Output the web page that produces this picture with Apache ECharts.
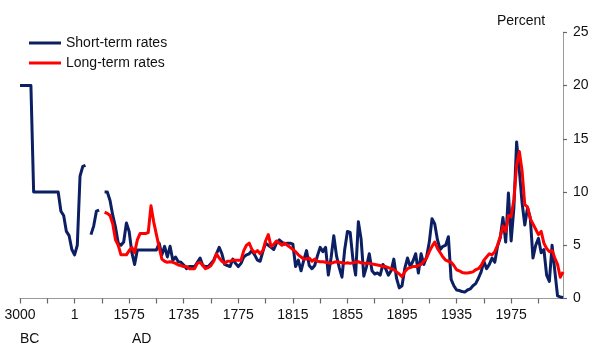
<!DOCTYPE html>
<html>
<head>
<meta charset="utf-8">
<script src="https://cdn.jsdelivr.net/npm/echarts@6/dist/echarts.min.js"></script>
<style>
html,body{margin:0;padding:0;background:#fff;}
#chart{width:602px;height:361px;}
</style>
</head>
<body>
<div id="chart"></div>
<script>
// Tick labels shown every 20 categories
const tickLabels = ["3000", "1", "1575", "1735", "1775", "1815", "1855", "1895", "1935", "1975"];
const eraLabels = ["BC", "AD"];

// Category years: 3000BC-1 (150y steps), 1-1575 (~79y), 1575-1735 (8y), 1735 on (2y)
const categories = [];
for (let i = 0; i < 200; i++) {
  let y;
  if (i < 20) y = -3000 + i * 150;
  else if (i < 40) y = 1 + Math.round((i - 20) * 78.7);
  else if (i < 60) y = 1575 + (i - 40) * 8;
  else y = 1735 + (i - 60) * 2;
  categories.push(String(y));
}

// Short-term rates (percent)
const shortRates = [
  20, 20, 20, 20, 20, 10, 10, 10, 10, 10,
  10, 10, 10, 10, 10, 8.2, 7.8, 6.3, 5.9, 4.6,
  4.1, 5.0, 11.5, 12.4, 12.5, null, 6.0, 6.8, 8.2, 8.3,
  null, 10.0, 10.0, 9.2, 7.8, 6.7, 5.2, 5.0, 5.3, 7.1,
  6.3, 4.3, 3.2, 4.55, 4.55, 4.55, 4.55, 4.55, 4.55, 4.55,
  4.55, 5.2, 4.1, 4.9, 3.9, 4.9, 3.6, 3.9, 3.45, 3.4,
  3.15, 2.8, 3.0, 3.0, 3.0, 3.4, 3.8, 3.1, 3.0, 3.0,
  3.3, 3.6, 4.2, 4.8, 4.2, 3.2, 3.1, 3.0, 3.7, 3.3,
  3.0, 3.3, 3.9, 4.1, 4.2, 4.5, 4.1, 3.6, 3.5, 4.4,
  5.2, 5.0, 4.8, 4.6, 5.2, 5.5, 5.3, 5.1, 5.2, 5.2,
  5.1, 3.0, 3.6, 2.6, 3.6, 4.5, 3.1, 2.8, 3.1, 4.0,
  4.8, 4.4, 4.8, 2.2, 3.8, 5.9, 4.0, 2.9, 2.0, 4.6,
  6.3, 6.2, 3.7, 2.2, 7.2, 5.6, 2.1, 3.0, 4.2, 2.6,
  2.3, 2.4, 2.2, 3.2, 2.8, 2.2, 2.6, 3.7, 1.9, 1.0,
  1.2, 2.8, 3.8, 3.0, 3.5, 4.2, 2.4, 4.2, 3.2, 3.9,
  5.3, 7.5, 7.0, 5.5, 4.6, 4.9, 5.0, 5.8, 1.8, 1.2,
  0.8, 0.75, 0.65, 0.6, 0.8, 0.9, 1.2, 1.4, 1.9, 2.5,
  3.5, 2.8, 3.2, 3.8, 3.4, 4.9, 5.7, 7.6, 5.3, 9.9,
  5.4, 8.5, 14.7, 12.0, 9.0, 6.9, 8.5, 7.6, 3.8, 5.0,
  5.65, 4.3, 4.6, 2.2, 1.6, 5.0, 2.6, 0.25, 0.15, 0.1
];

// Long-term rates (percent)
const longRates = [
  null, null, null, null, null, null, null, null, null, null,
  null, null, null, null, null, null, null, null, null, null,
  null, null, null, null, null, null, null, null, null, null,
  null, 8.1, 8.0, 7.8, 7.0, 5.5, 5.0, 4.1, 4.1, 4.1,
  4.5, 4.8, 4.3, 5.5, 6.1, 6.1, 6.1, 6.2, 8.7, 7.2,
  6.0, 4.8, 3.7, 3.5, 3.4, 3.45, 3.4, 3.3, 3.15, 3.1,
  3.0, 3.0, 2.8, 2.8, 2.8, 3.3, 3.4, 3.1, 2.8, 2.9,
  3.1, 3.5, 4.2, 3.8, 3.5, 3.3, 3.5, 3.5, 3.6, 3.6,
  3.6, 3.6, 4.5, 5.0, 5.2, 4.6, 4.3, 4.5, 4.2, 4.5,
  5.4, 6.0, 4.9, 5.1, 5.4, 5.2, 5.0, 5.2, 5.0, 4.8,
  4.6, 4.4, 4.1, 3.9, 3.7, 3.7, 3.8, 3.5, 3.7, 3.5,
  3.45, 3.45, 3.4, 3.35, 3.3, 3.4, 3.45, 3.4, 3.35, 3.3,
  3.35, 3.3, 3.35, 3.4, 3.45, 3.35, 3.3, 3.3, 3.3, 3.25,
  3.2, 3.15, 3.1, 3.0, 3.0, 2.9, 2.8, 2.7, 2.5, 2.3,
  2.05, 2.5, 2.8, 2.9, 3.0, 3.0, 3.1, 3.2, 3.5, 3.8,
  4.4, 4.9, 5.3, 4.7, 4.3, 3.9, 3.6, 3.5, 3.4, 3.1,
  2.7, 2.6, 2.45, 2.4, 2.4, 2.45, 2.5, 2.7, 2.8, 3.1,
  3.6, 3.9, 4.2, 4.1, 4.4, 5.0, 5.8, 6.8, 6.3, 7.8,
  7.7, 9.3, 12.5, 13.8, 12.0, 8.8, 8.6, 7.5, 7.0, 6.5,
  6.0, 6.3, 5.2, 4.7, 4.4, 4.5, 3.8, 3.2, 2.0, 2.5
];

const seriesNames = ["Short-term rates", "Long-term rates"];
const yTicks = { min: 0, max: 25, step: 5 };

const FONT = "'Liberation Sans', Arial, sans-serif";
const chart = echarts.init(document.getElementById('chart'), null, { renderer: 'canvas' });

chart.setOption({
  animation: false,
  backgroundColor: '#ffffff',
  textStyle: { fontFamily: FONT },
  grid: { left: 20, right: 39, top: 32.3, bottom: 62.5, containLabel: false, outerBoundsMode: 'none' },
  legend: {
    orient: 'vertical',
    left: 29,
    top: 35,
    padding: 0,
    itemWidth: 32,
    itemHeight: 3,
    itemGap: 4,
    icon: 'rect',
    data: seriesNames,
    textStyle: { fontFamily: FONT, fontSize: 14, color: '#111', lineHeight: 16 }
  },
  xAxis: {
    type: 'category',
    boundaryGap: false,
    data: categories,
    axisLine: { show: true, lineStyle: { color: '#9a9a9a', width: 1 } },
    axisTick: {
      show: true,
      alignWithLabel: false,
      length: 5,
      interval: 9,
      lineStyle: { color: '#666666', width: 1.2 }
    },
    axisLabel: {
      interval: 19,
      formatter: function (value, index) {
        return index % 20 === 0 ? (tickLabels[index / 20] || '') : '';
      },
      fontFamily: FONT,
      fontSize: 14,
      color: '#111',
      margin: 10
    },
    splitLine: { show: false }
  },
  yAxis: {
    type: 'value',
    position: 'right',
    min: yTicks.min,
    max: yTicks.max,
    interval: yTicks.step,
    axisLine: { show: true, lineStyle: { color: '#9a9a9a', width: 1 } },
    axisTick: { show: true, length: 4, lineStyle: { color: '#666666', width: 1.2 } },
    axisLabel: { fontFamily: FONT, fontSize: 14, color: '#111', margin: 10 },
    splitLine: { show: false }
  },
  graphic: [
    { type: 'text', left: 497, top: 14, style: { text: 'Percent', font: '14px ' + FONT, fill: '#111' } },
    { type: 'text', left: 20, top: 332, style: { text: eraLabels[0], font: '14px ' + FONT, fill: '#111' } },
    { type: 'text', left: 132, top: 332, style: { text: eraLabels[1], font: '14px ' + FONT, fill: '#111' } }
  ],
  series: [
    {
      name: seriesNames[0],
      type: 'line',
      data: shortRates,
      showSymbol: false,
      symbol: 'none',
      connectNulls: false,
      lineStyle: { color: '#0b1f62', width: 3, join: 'round' },
      itemStyle: { color: '#0b1f62' },
      z: 2
    },
    {
      name: seriesNames[1],
      type: 'line',
      data: longRates,
      showSymbol: false,
      symbol: 'none',
      connectNulls: false,
      lineStyle: { color: '#ff0000', width: 3, join: 'round' },
      itemStyle: { color: '#ff0000' },
      z: 3
    }
  ]
});
</script>
</body>
</html>
